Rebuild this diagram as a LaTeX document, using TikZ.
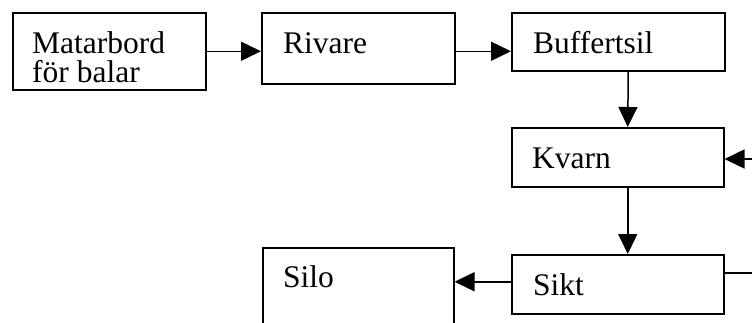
\documentclass[tikz,border=0pt]{standalone}
\usepackage{fontspec}
\setmainfont{Liberation Serif}
\usetikzlibrary{arrows.meta}
\tikzset{
  box/.style={draw, line width=1.5pt, rectangle, inner sep=0pt, anchor=north west},
  txt/.style={anchor=base west, inner sep=0pt, font=\fontsize{31.5}{29}\selectfont, align=left},
  arr/.style={line width=1.5pt, -{Triangle[length=20pt,width=19pt]}},
  ln/.style={line width=1.5pt}
}
\begin{document}
\begin{tikzpicture}[x=1pt,y=-1pt]
\useasboundingbox (0,0) rectangle (752,322);
\clip (0,0) rectangle (752,322);
% boxes
\node[box, minimum width=193pt, minimum height=77pt] (mat) at (12,12) {};
\node[box, minimum width=193pt, minimum height=71pt] (riv) at (261,12) {};
\node[box, minimum width=213pt, minimum height=58pt] (buf) at (511,12) {};
\node[box, minimum width=212pt, minimum height=59pt] (kv) at (511,127) {};
\node[box, minimum width=212pt, minimum height=59pt] (sikt) at (511,254) {};
\node[box, minimum width=191pt, minimum height=100pt] (silo) at (262,247) {};
% texts
\node[txt] (matT) at (32,53) {Matarbord};
\node[txt] (matT2) at (32,82) {för balar};
\node[txt] (rivT) at (283,53) {Rivare};
\node[txt] (bufT) at (533,53) {Buffertsil};
\node[txt] (kvT) at (532,168) {Kvarn};
\node[txt] (siktT) at (533,295) {Sikt};
\node[txt] (siloT) at (283,287) {Silo};
% edge coordinates
\coordinate (r1) at (752,159);
\coordinate (r2) at (752,273);
% connectors
\draw[arr] (mat.east) -- (mat.east -| riv.west);
\draw[arr] (riv.east |- mat.east) -- (buf.west |- mat.east);
\draw[arr] ([xshift=10pt]buf.south) -- ([xshift=10pt]kv.north);
\draw[arr] ([xshift=10pt]kv.south) -- ([xshift=10pt]sikt.north);
\draw[arr] ([yshift=2.5pt]sikt.west) -- ([yshift=2.5pt]sikt.west -| silo.east);
\draw[arr] (r1) -- (r1 -| kv.east);
\draw[ln] (r2 -| sikt.east) -- (r2);
\end{tikzpicture}
\end{document}
